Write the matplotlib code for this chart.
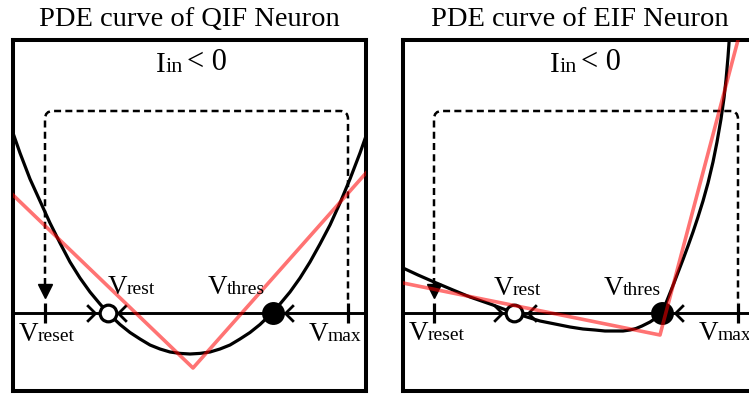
import matplotlib
matplotlib.use('Agg')
import matplotlib.pyplot as plt
from matplotlib.path import Path
from matplotlib.patches import PathPatch

plt.rcParams['font.family'] = ['Liberation Serif', 'DejaVu Serif']

W, H, DPI = 749, 396, 100

# ---------------- data (x = V, y = dV/dt) ----------------
titles = ['PDE curve of QIF Neuron', 'PDE curve of EIF Neuron']
input_label = ['I', 'in', '< 0']

# QIF neuron: black curve and its red piecewise-linear approximation
qif_v = [0, 7, 17, 27, 37, 47, 57, 67, 77, 87, 95, 107, 117, 127, 137, 147, 157, 167, 177,
         187, 197, 207, 217, 227, 237, 247, 259, 267, 277, 287, 297, 307, 317, 327, 337, 347, 353]
qif_f = [180, 160, 134, 112, 90, 70, 51, 35, 21, 9, 0, -11.5, -19.5, -26, -32, -36, -39, -40.4, -41,
         -40.4, -39, -36, -32, -26, -19.5, -11.5, 0, 9, 21, 35, 51, 69, 88, 110, 134, 160, 177]
qif_lin_v = [0, 180, 353]
qif_lin_f = [118, -55, 140]

# EIF neuron
eif_v = [0, 15, 31, 50, 67, 90, 111, 137, 152, 167, 180, 192, 202, 212, 220, 227, 233, 239,
         247, 253, 257, 260, 263, 267, 271, 275, 280, 285, 290, 295, 300, 305, 310, 314, 318,
         321, 323, 325, 326, 326.5]
eif_f = [45, 38, 31, 23, 16, 8, 0, -8, -11, -14, -16, -17, -18, -18, -18, -17, -15.5, -13,
         -9, -5, -1, 3, 10, 20, 30, 40.5, 53.5, 67, 81, 96, 112, 130, 151, 171, 194,
         215, 233, 256, 270, 280]
eif_lin_v = [0, 257, 335]
eif_lin_f = [30, -22, 273]

curves = [(qif_v, qif_f), (eif_v, eif_f)]
lin_curves = [(qif_lin_v, qif_lin_f), (eif_lin_v, eif_lin_f)]

v_reset = [32, 31]
v_rest = [95, 111]
v_thres = [260, 259]
v_max = [335, 335]
chevron_right = [[82], [99]]             # '>' flow arrows
chevron_left = [[105, 272], [125, 272]]  # '<' flow arrows
loop_top = 202
reset_tip = 16

# label anchor (junction between 'V' and subscript, baseline)
label_subs = ['rest', 'thres', 'reset', 'max']
label_x = [[114, 214, 25, 315], [110, 220, 25, 315]]
label_y = [[19, 19, -28, -28], [18, 18, -27, -27]]
input_x = [153, 157]
input_y = 241

# ---------------- layout ----------------
fig = plt.figure(figsize=(W / DPI, H / DPI), dpi=DPI)
boxes = [(13, 40, 366, 391), (403, 40, 756, 391)]
axis_y_px = 313

right_chev = Path([(-1, 1), (0, 0), (-1, -1)], [Path.MOVETO, Path.LINETO, Path.LINETO])
left_chev = Path([(1, 1), (0, 0), (1, -1)], [Path.MOVETO, Path.LINETO, Path.LINETO])

for i, (l, t, r, b) in enumerate(boxes):
    ax = fig.add_axes([l / W, 1 - b / H, (r - l) / W, (b - t) / H])
    ax.set_xlim(0, r - l)
    ax.set_ylim(axis_y_px - b, axis_y_px - t)
    ax.set_xticks([])
    ax.set_yticks([])
    for s in ax.spines.values():
        s.set_linewidth(2.9)
        s.set_color('black')

    # V axis
    ax.axhline(0, color='black', lw=2.1, zorder=1)

    # dashed reset loop
    rr = 8
    vr, vm = v_reset[i], v_max[i]
    verts = [(vr, reset_tip + 12), (vr, loop_top - rr), (vr, loop_top), (vr + rr, loop_top),
             (vm - rr, loop_top), (vm, loop_top), (vm, loop_top - rr), (vm, 10)]
    codes = [Path.MOVETO, Path.LINETO, Path.CURVE3, Path.CURVE3,
             Path.LINETO, Path.CURVE3, Path.CURVE3, Path.LINETO]
    ax.add_patch(PathPatch(Path(verts, codes), fill=False, ec='black', lw=1.8,
                           ls=(0, (2.8, 1.7)), capstyle='butt', zorder=2))
    ax.plot([vr], [reset_tip + 6.5], marker='v', ms=9.5, color='black', ls='none', zorder=2)

    # ticks for V_reset and V_max
    ax.plot([vr, vm], [0, 0], ls='none', marker='|', ms=14.5, mew=2.3, color='black', zorder=3)

    # PDE curve
    cv, cf = curves[i]
    ax.plot(cv, cf, color='black', lw=2.3, solid_joinstyle='round', solid_capstyle='round', zorder=3)

    # flow chevrons
    ax.plot(chevron_right[i], [0] * len(chevron_right[i]), ls='none', marker=right_chev,
            ms=12, mfc='none', mec='black', mew=2.0, zorder=4)
    ax.plot(chevron_left[i], [0] * len(chevron_left[i]), ls='none', marker=left_chev,
            ms=12, mfc='none', mec='black', mew=2.0, zorder=4)

    # fixed points
    ax.plot([v_rest[i]], [0], marker='o', ms=12, mfc='white', mec='black', mew=2.3, zorder=5)
    ax.plot([v_thres[i]], [0], marker='o', ms=16.5, mfc='black', mec='black', mew=0, zorder=5)

    # linear approximation
    lv, lf = lin_curves[i]
    ax.plot(lv, lf, color=(1, 0, 0), alpha=0.55, lw=2.6, zorder=6)

    # labels
    for sub, x, y in zip(label_subs, label_x[i], label_y[i]):
        ax.text(x, y, 'V', ha='right', va='baseline', fontsize=19.5, zorder=7)
        ax.text(x, y, sub, ha='left', va='baseline', fontsize=14, zorder=7)

    ax.text(input_x[i], input_y, input_label[0], ha='right', va='baseline', fontsize=21)
    tin = ax.text(input_x[i], input_y, input_label[1], ha='left', va='baseline', fontsize=16)
    ax.annotate(input_label[2], xy=(1, 0), xycoords=tin, xytext=(2.5, 0),
                textcoords='offset points', ha='left', va='bottom', fontsize=22)

    ax.text(0.5, 1 + 14 / (b - t), titles[i], transform=ax.transAxes,
            ha='center', va='baseline', fontsize=20.5)

fig.savefig('out.png', dpi=DPI)
